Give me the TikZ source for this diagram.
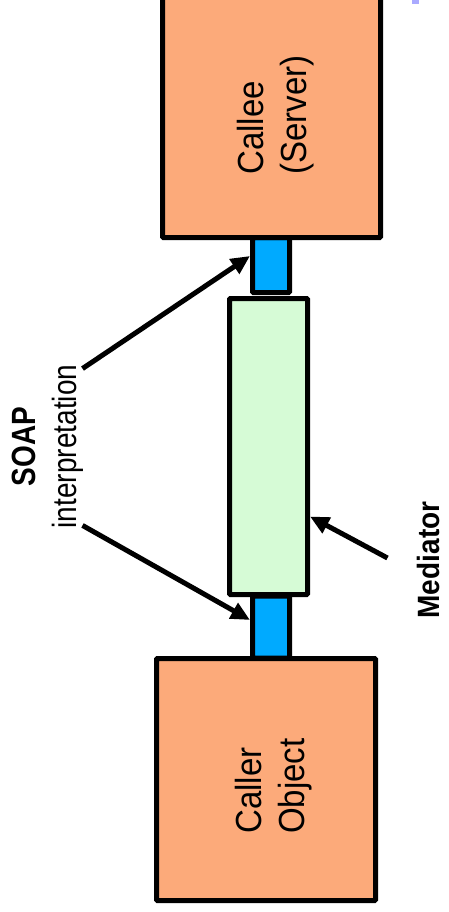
\documentclass[tikz,border=0pt]{standalone}
\usepackage{fontspec}
\setmainfont{Liberation Sans}
\usepackage{tikz}
\usetikzlibrary{arrows.meta}
\definecolor{Peach}{RGB}{252, 170, 122}
\definecolor{Mint}{RGB}{214, 251, 214}
\definecolor{Wire}{RGB}{0, 170, 255}
\definecolor{Speck}{RGB}{170, 170, 255}

% letters a bit taller than wide, as in the slide
\newcommand{\tallstack}[3]{\scalebox{1}[#1]{\begin{tabular}{@{}#2@{}}#3\end{tabular}}}

\tikzset{
    box/.style={draw, line width=5pt, rounded corners=1pt, inner sep=0pt},
    boxtext/.style={rotate=90, inner sep=0pt, font=\fontsize{33}{39}\selectfont},
    note/.style={rotate=90, inner sep=0pt, font=\fontsize{28}{34}\selectfont},
    pointer/.style={line width=5pt, -{Triangle[length=19pt, width=17pt]}},
}

\begin{document}
\begin{tikzpicture}[x=1pt, y=-1pt]
    %% Background
    \useasboundingbox (0,0) rectangle (448,912);
    \fill[Speck] (412,0) rectangle (419,4);

    %% Links
    \node[box, fill=Wire, minimum width=37pt, minimum height=55pt] (toplink) at (271,265) {};
    \node[box, fill=Wire, minimum width=37pt, minimum height=62pt] (botlink) at (271,627) {};

    %% Boxes
    \node[box, fill=Peach, minimum width=218pt, minimum height=258pt] (calleebox) at (271.5,108.5) {};
    \node[box, fill=Mint, minimum width=78pt, minimum height=296pt] (mediatorbox) at (268.5,446.5) {};
    \node[box, fill=Peach, minimum width=219pt, minimum height=242pt] (callerbox) at (266,779.5) {};

    \node[boxtext] (calleelabel) at (276.5,115) {\tallstack{1.1}{l}{Callee\\(Server)}};
    \node[boxtext] (callerlabel) at (274,786) {\tallstack{1.1}{l}{Caller\\Object}};

    %% Labels
    \node[note] (soaplabel) at (47.5,446.5) {\tallstack{1.2}{c}{\textbf{SOAP}\\interpretation}};
    \node[note, font=\fontsize{28}{34}\selectfont\bfseries] (mediatorlabel) at (428,560) {\scalebox{1}[1.1]{Mediator}};

    %% Arrows
    \draw[pointer] ([xshift=-6pt, yshift=-4pt]soaplabel.south east) -- ([yshift=9pt]toplink.west);
    \draw[pointer] ([xshift=-6pt, yshift=3pt]soaplabel.south west) -- ([yshift=7pt]botlink.west);
    \draw[pointer] ([xshift=-29pt, yshift=2pt]mediatorlabel.north) -- ([yshift=-70pt]mediatorbox.east);
\end{tikzpicture}
\end{document}
